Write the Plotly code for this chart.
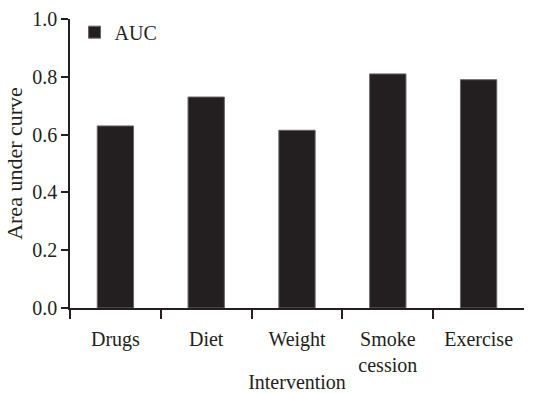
import plotly.graph_objects as go

categories = ["Drugs", "Diet", "Weight", "Smoke<br>cession", "Exercise"]
auc_values = [0.63, 0.73, 0.615, 0.81, 0.79]
y_ticks = [0.0, 0.2, 0.4, 0.6, 0.8, 1.0]
y_tick_labels = ["0.0", "0.2", "0.4", "0.6", "0.8", "1.0"]

FONT = "Liberation Serif, serif"
INK = "#231F20"

xpos = list(range(len(categories)))

fig = go.Figure()
fig.add_trace(go.Bar(
    x=xpos, y=auc_values, name="AUC", width=0.4,
    marker=dict(color=INK, line=dict(color="#6a6666", width=1)),
    showlegend=True,
))

fig.update_layout(
    width=553, height=393,
    margin=dict(l=70, r=29, t=19, b=85),
    paper_bgcolor="white", plot_bgcolor="white",
    font=dict(family=FONT, size=20, color=INK),
    legend=dict(x=0.01, y=1.022, xanchor="left", yanchor="top",
                bgcolor="rgba(0,0,0,0)", font=dict(size=20)),
    xaxis=dict(
        range=[-0.5, 4.5], automargin=False,
        tickmode="array", tickvals=xpos, ticktext=categories,
        ticks="", ticklen=0,
        showline=True, linecolor=INK, linewidth=1.5,
        showgrid=False, zeroline=False,
        minor=dict(tickmode="array", tickvals=[-0.5, 0.5, 1.5, 2.5, 3.5],
                   ticks="outside", ticklen=9, tickcolor=INK, tickwidth=1.5,
                   showgrid=False),
        ticklabelstandoff=12,
        title=dict(text="Intervention", font=dict(size=20), standoff=4),
    ),
    yaxis=dict(
        range=[0, 1.0], automargin=False,
        tickmode="array", tickvals=y_ticks, ticktext=y_tick_labels,
        ticks="outside", ticklen=7, tickcolor=INK, tickwidth=1.5,
        showline=True, linecolor=INK, linewidth=1.5,
        showgrid=False, zeroline=False,
        title=dict(text="Area under curve", font=dict(size=22), standoff=4),
    ),
)

fig.write_html("out.html", config={"displayModeBar": False},
               post_script="document.body.style.margin='0';")
